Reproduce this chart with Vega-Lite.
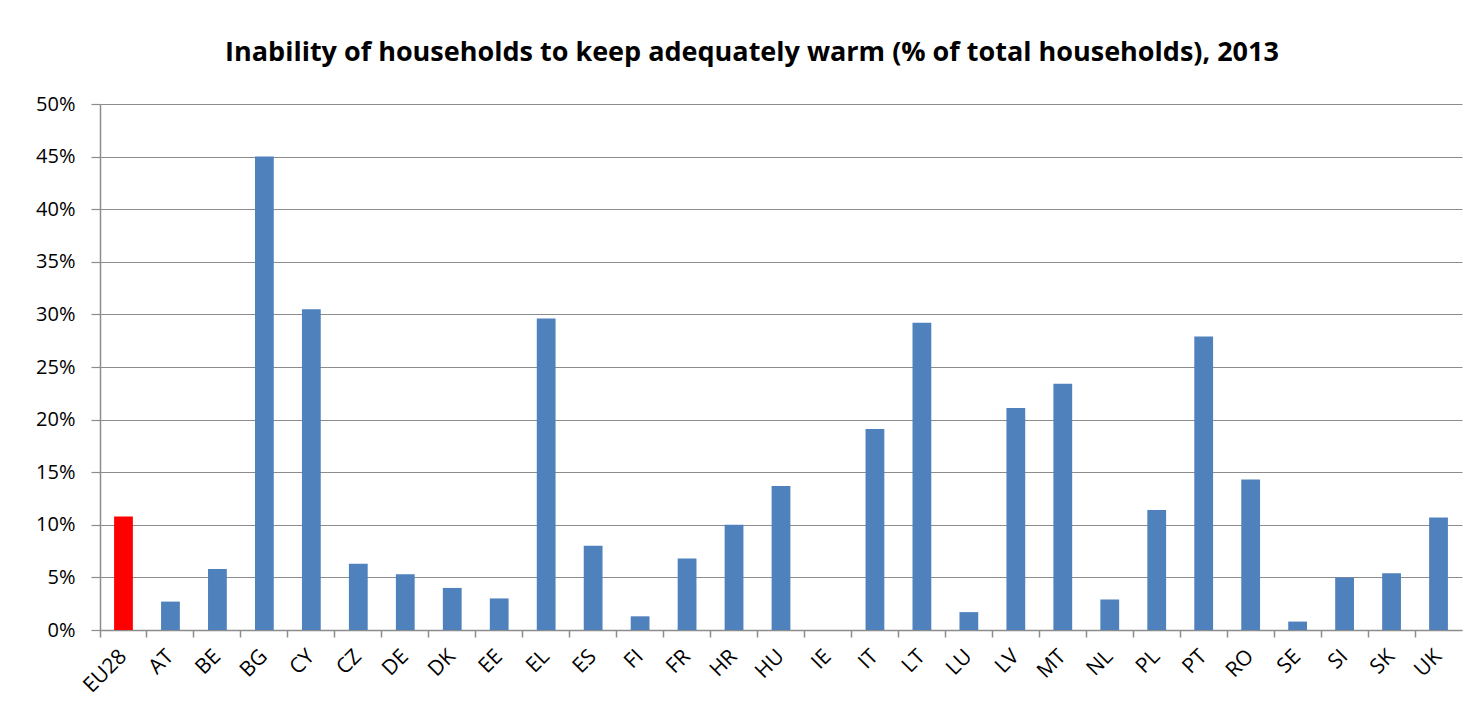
{
  "$schema": "https://vega.github.io/schema/vega-lite/v6.json",
  "autosize": {"type": "none"},
  "width": 1362,
  "height": 526,
  "padding": {"left": 100, "top": 104, "right": 16, "bottom": 91},
  "background": "white",
  "title": {
    "text": "Inability of households to keep adequately warm (% of total households), 2013",
    "font": "Open Sans",
    "fontSize": 27,
    "fontWeight": "bold",
    "color": "#000000",
    "anchor": "middle",
    "dx": -29,
    "offset": 27
  },
  "data": {
    "values": [
      {"country": "EU28", "value": 10.8, "group": "EU"},
      {"country": "AT", "value": 2.7, "group": "Country"},
      {"country": "BE", "value": 5.8, "group": "Country"},
      {"country": "BG", "value": 45.0, "group": "Country"},
      {"country": "CY", "value": 30.5, "group": "Country"},
      {"country": "CZ", "value": 6.3, "group": "Country"},
      {"country": "DE", "value": 5.3, "group": "Country"},
      {"country": "DK", "value": 4.0, "group": "Country"},
      {"country": "EE", "value": 3.0, "group": "Country"},
      {"country": "EL", "value": 29.6, "group": "Country"},
      {"country": "ES", "value": 8.0, "group": "Country"},
      {"country": "FI", "value": 1.3, "group": "Country"},
      {"country": "FR", "value": 6.8, "group": "Country"},
      {"country": "HR", "value": 10.0, "group": "Country"},
      {"country": "HU", "value": 13.7, "group": "Country"},
      {"country": "IE", "value": null, "group": "Country"},
      {"country": "IT", "value": 19.1, "group": "Country"},
      {"country": "LT", "value": 29.2, "group": "Country"},
      {"country": "LU", "value": 1.7, "group": "Country"},
      {"country": "LV", "value": 21.1, "group": "Country"},
      {"country": "MT", "value": 23.4, "group": "Country"},
      {"country": "NL", "value": 2.9, "group": "Country"},
      {"country": "PL", "value": 11.4, "group": "Country"},
      {"country": "PT", "value": 27.9, "group": "Country"},
      {"country": "RO", "value": 14.3, "group": "Country"},
      {"country": "SE", "value": 0.8, "group": "Country"},
      {"country": "SI", "value": 5.0, "group": "Country"},
      {"country": "SK", "value": 5.4, "group": "Country"},
      {"country": "UK", "value": 10.7, "group": "Country"}
    ]
  },
  "mark": {"type": "bar", "width": {"band": 0.4}},
  "encoding": {
    "x": {
      "field": "country",
      "type": "nominal",
      "sort": null,
      "scale": {
        "domain": ["EU28","AT","BE","BG","CY","CZ","DE","DK","EE","EL","ES","FI","FR","HR","HU","IE","IT","LT","LU","LV","MT","NL","PL","PT","RO","SE","SI","SK","UK"],
        "paddingInner": 0,
        "paddingOuter": 0
      },
      "axis": {
        "title": null,
        "labelAngle": -45,
        "labelAlign": "right",
        "labelBaseline": "middle",
        "labelFont": "Open Sans",
        "labelFontSize": 21,
        "labelColor": "#000000",
        "labelPadding": 16,
        "bandPosition": 0,
        "tickSize": 7,
        "tickColor": "#8c8c8c",
        "domainColor": "#8c8c8c",
        "domainWidth": 1.5,
        "tickWidth": 1.5,
        "grid": false
      }
    },
    "y": {
      "field": "value",
      "type": "quantitative",
      "scale": {"domain": [0, 50], "nice": false},
      "axis": {
        "title": null,
        "values": [0, 5, 10, 15, 20, 25, 30, 35, 40, 45, 50],
        "labelExpr": "datum.value + '%'",
        "labelFont": "Open Sans",
        "labelFontSize": 20,
        "labelColor": "#000000",
        "labelPadding": 16,
        "tickSize": 9,
        "tickColor": "#8c8c8c",
        "tickWidth": 1.2,
        "domainColor": "#8c8c8c",
        "domainWidth": 1.5,
        "grid": true,
        "gridColor": "#8c8c8c",
        "gridWidth": 1.2
      }
    },
    "color": {
      "field": "group",
      "type": "nominal",
      "scale": {"domain": ["EU", "Country"], "range": ["#ff0000", "#4f81bd"]},
      "legend": null
    }
  },
  "config": {
    "view": {"stroke": null}
  }
}
